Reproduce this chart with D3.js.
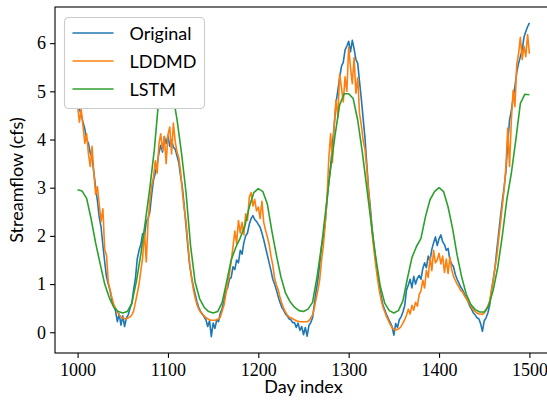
<!DOCTYPE html>
<html>
<head>
<meta charset="utf-8">
<script src="https://cdn.jsdelivr.net/npm/d3@7"></script>
<style>
  body { margin: 0; background: #fff; }
  #chart { width: 547px; height: 402px; overflow: hidden; }
  .tick-label { font-family: "Liberation Serif", serif; font-size: 18px; fill: #000; }
  .axis-title, .legend-text { font-family: Lato, "Noto Sans", sans-serif; font-size: 18px; fill: #000; }
</style>
</head>
<body>
<div id="chart"></div>
<script>
// Day index of first sample and spacing for each series
const noisyStart = 1000, noisyStep = 2;
const lstmStart = 1000, lstmStep = 5;

// Original streamflow, every 2 days from 1000 to 1500
const originalFlow = [
  4.75, 4.64, 4.52, 4.36, 4.22, 4.00, 3.92, 3.72, 3.62, 3.32,
  3.00, 2.72, 2.38, 2.18, 1.80, 1.46, 1.15, 1.00, 0.86, 0.66,
  0.55, 0.44, 0.22, 0.38, 0.15, 0.34, 0.12, 0.30, 0.36, 0.50,
  0.60, 0.88, 1.12, 1.52, 1.70, 1.82, 2.05, 1.98, 2.30, 2.36,
  2.50, 2.86, 3.16, 3.30, 3.48, 3.72, 3.88, 3.74, 4.06, 3.92,
  4.08, 3.86, 4.00, 3.84, 3.80, 3.66, 3.52, 3.24, 3.00, 2.62,
  2.20, 1.78, 1.40, 1.16, 0.96, 0.80, 0.64, 0.52, 0.44, 0.38,
  0.32, 0.26, 0.12, 0.24, -0.09, 0.19, 0.08, 0.26, 0.22, 0.40,
  0.50, 0.66, 0.86, 0.92, 1.10, 1.14, 1.36, 1.30, 1.50, 1.44,
  1.70, 1.62, 1.86, 2.00, 2.06, 2.24, 2.36, 2.42, 2.34, 2.30,
  2.24, 2.18, 2.06, 1.92, 1.76, 1.60, 1.44, 1.28, 1.10, 1.00,
  0.88, 0.74, 0.62, 0.52, 0.46, 0.38, 0.34, 0.28, 0.26, 0.20,
  0.20, 0.10, 0.19, 0.04, 0.12, -0.05, 0.10, -0.08, 0.14, 0.20,
  0.30, 0.58, 0.86, 1.10, 1.42, 1.78, 1.98, 2.28, 2.72, 3.14,
  3.44, 3.88, 4.30, 4.76, 5.02, 5.28, 5.52, 5.60, 5.86, 5.94,
  6.04, 5.82, 6.06, 5.88, 5.66, 5.58, 5.20, 4.84, 4.44, 4.04,
  3.50, 2.96, 2.58, 2.14, 1.78, 1.50, 1.20, 0.94, 0.74, 0.56,
  0.46, 0.36, 0.28, 0.20, 0.12, -0.06, 0.18, 0.10, 0.26, 0.32,
  0.42, 0.55, 0.88, 0.98, 1.10, 0.92, 1.16, 1.00, 1.12, 1.18,
  1.10, 1.32, 1.44, 1.34, 1.58, 1.48, 1.72, 1.86, 1.98, 1.80,
  1.94, 2.02, 1.88, 1.82, 1.70, 1.74, 1.50, 1.42, 1.36, 1.20,
  1.10, 1.02, 0.94, 0.88, 0.80, 0.72, 0.64, 0.54, 0.48, 0.40,
  0.36, 0.30, 0.28, 0.18, 0.02, 0.24, 0.30, 0.40, 0.56, 0.86,
  1.10, 1.36, 1.72, 2.06, 2.40, 2.72, 3.00, 3.34, 3.92, 4.40,
  4.60, 4.86, 5.10, 5.40, 5.58, 5.72, 5.86, 6.12, 6.24, 6.34,
  6.42
];

// LDDMD reconstruction, every 2 days from 1000 to 1500
const lddmdFlow = [
  4.70, 4.36, 4.62, 4.28, 3.92, 4.12, 3.70, 3.44, 3.86, 3.30,
  2.86, 3.02, 2.64, 2.30, 2.56, 1.72, 1.60, 1.04, 0.88, 0.72,
  0.58, 0.50, 0.42, 0.36, 0.32, 0.30, 0.28, 0.28, 0.30, 0.32,
  0.36, 0.44, 0.62, 0.80, 1.00, 1.28, 1.55, 2.10, 1.46, 2.30,
  2.74, 3.04, 3.22, 3.56, 3.30, 3.90, 4.12, 3.78, 4.06, 3.50,
  4.10, 4.26, 3.70, 4.34, 3.96, 3.74, 3.62, 3.34, 2.90, 2.56,
  2.30, 1.86, 1.44, 1.14, 0.90, 0.72, 0.58, 0.48, 0.42, 0.37,
  0.34, 0.30, 0.28, 0.26, 0.25, 0.25, 0.25, 0.26, 0.28, 0.32,
  0.44, 0.56, 0.78, 1.00, 1.20, 1.48, 1.78, 2.10, 1.84, 2.32,
  2.06, 2.28, 2.02, 2.46, 2.32, 2.80, 2.90, 2.62, 2.76, 2.52,
  2.60, 2.36, 2.72, 2.28, 2.12, 1.98, 1.82, 1.58, 1.40, 1.12,
  0.98, 0.88, 0.72, 0.60, 0.50, 0.42, 0.36, 0.32, 0.30, 0.28,
  0.26, 0.24, 0.23, 0.22, 0.22, 0.22, 0.22, 0.22, 0.24, 0.30,
  0.36, 0.50, 0.70, 0.88, 1.10, 1.50, 1.80, 2.24, 2.78, 3.60,
  4.12, 3.52, 4.30, 4.82, 4.46, 5.36, 5.08, 4.78, 5.30, 5.00,
  5.92, 5.50, 5.16, 5.70, 4.96, 5.28, 4.54, 4.30, 3.98, 3.80,
  3.40, 2.92, 2.50, 2.04, 1.70, 1.38, 1.10, 0.86, 0.66, 0.52,
  0.42, 0.32, 0.24, 0.16, 0.10, 0.06, 0.05, 0.06, 0.08, 0.12,
  0.19, 0.26, 0.36, 0.48, 0.38, 0.56, 0.46, 0.62, 0.54, 0.78,
  0.86, 1.08, 0.92, 1.28, 1.14, 1.56, 1.28, 1.70, 1.44, 1.50,
  1.64, 1.42, 1.58, 1.24, 1.52, 1.22, 1.56, 1.30, 1.16, 1.08,
  1.00, 0.94, 0.86, 0.84, 0.76, 0.70, 0.64, 0.58, 0.52, 0.46,
  0.43, 0.40, 0.38, 0.38, 0.37, 0.40, 0.46, 0.55, 0.65, 0.88,
  1.08, 1.34, 1.58, 1.94, 2.26, 2.62, 2.96, 3.44, 4.24, 3.44,
  4.40, 5.02, 4.68, 5.56, 5.78, 6.12, 5.66, 5.94, 5.72, 6.18,
  5.78
];

// LSTM prediction, every 5 days from 1000 to 1500
const lstmFlow = [
  2.96, 2.93, 2.78, 2.35, 1.85, 1.42, 1.00, 0.72, 0.52, 0.43,
  0.40, 0.43, 0.60, 1.05, 1.62, 2.30, 3.00, 3.80, 4.88, 5.12,
  5.15, 4.98, 4.42, 3.72, 2.90, 1.80, 1.05, 0.70, 0.52, 0.43,
  0.40, 0.43, 0.62, 1.05, 1.50, 1.76, 1.96, 2.20, 2.60, 2.90,
  2.98, 2.92, 2.66, 2.10, 1.60, 1.15, 0.82, 0.64, 0.52, 0.45,
  0.43, 0.48, 0.62, 1.15, 1.80, 2.60, 3.40, 4.10, 4.72, 4.95,
  4.95, 4.85, 4.40, 3.75, 3.00, 2.25, 1.55, 0.95, 0.60, 0.45,
  0.40, 0.45, 0.65, 1.12, 1.55, 1.78, 1.95, 2.40, 2.75, 2.92,
  3.00, 2.92, 2.60, 2.15, 1.60, 1.15, 0.80, 0.58, 0.47, 0.42,
  0.42, 0.55, 0.88, 1.35, 2.00, 2.75, 3.30, 4.00, 4.75, 4.94,
  4.93
];

const seriesNames = ["Original", "LDDMD", "LSTM"];
const seriesColors = ["#1f77b4", "#ff7f0e", "#2ca02c"];
const xTickValues = [1000, 1100, 1200, 1300, 1400, 1500];
const yTickValues = [0, 1, 2, 3, 4, 5, 6];

class StreamflowChart {

  constructor(_config) {
    this.config = {
      parentElement: _config.parentElement,
      containerWidth: 547,
      containerHeight: 402,
      // the right spine falls just outside the picture
      margin: { top: 7, left: 55, width: 497, height: 346 }
    };
    this.initVis();
  }

  initVis() {
    let vis = this;
    const m = vis.config.margin;

    vis.svg = d3.select(vis.config.parentElement).append("svg")
        .attr("width", vis.config.containerWidth)
        .attr("height", vis.config.containerHeight);

    vis.chart = vis.svg.append("g")
        .attr("transform", "translate(" + m.left + "," + m.top + ")");

    vis.xScale = d3.scaleLinear().domain([975, 1525]).range([0, m.width]);
    vis.yScale = d3.scaleLinear().domain([-0.43, 6.75]).range([m.height, 0]);

    vis.chart.append("clipPath").attr("id", "plot-clip")
      .append("rect").attr("width", m.width).attr("height", m.height);

    vis.xAxisGroup = vis.chart.append("g")
        .attr("transform", "translate(0," + m.height + ")");
    vis.yAxisGroup = vis.chart.append("g");

    vis.lineGroup = vis.chart.append("g").attr("clip-path", "url(#plot-clip)");

    vis.line = d3.line()
        .x(d => vis.xScale(d.day))
        .y(d => vis.yScale(d.value));
  }

  updateVis() {
    let vis = this;
    const m = vis.config.margin;

    const toPoints = (values, start, step) => values.map((v, i) => ({ day: start + i * step, value: v }));
    vis.series = [
      toPoints(originalFlow, noisyStart, noisyStep),
      toPoints(lddmdFlow, noisyStart, noisyStep),
      toPoints(lstmFlow, lstmStart, lstmStep)
    ];

    // Axes
    vis.xAxisGroup.call(d3.axisBottom(vis.xScale).tickValues(xTickValues)
        .tickFormat(d3.format("d")).tickSize(4.9).tickPadding(5));
    vis.yAxisGroup.call(d3.axisLeft(vis.yScale).tickValues(yTickValues)
        .tickFormat(d3.format("d")).tickSize(4.9).tickPadding(4));
    [vis.xAxisGroup, vis.yAxisGroup].forEach(g => {
      g.select(".domain").remove();
      g.selectAll(".tick line").attr("stroke", "#000").attr("stroke-width", 1.1);
      g.selectAll(".tick text").attr("class", "tick-label").attr("font-family", null).attr("font-size", null);
    });

    // Lines
    vis.lineGroup.selectAll(".series")
        .data(vis.series)
      .join("path")
        .attr("class", "series")
        .attr("fill", "none")
        .attr("stroke", (d, i) => seriesColors[i])
        .attr("stroke-width", 1.6)
        .attr("stroke-linejoin", "round")
        .attr("d", vis.line);

    // Frame
    vis.chart.append("rect")
        .attr("width", m.width).attr("height", m.height)
        .attr("fill", "none").attr("stroke", "#000").attr("stroke-width", 1.1);

    // Axis titles
    vis.svg.append("text").attr("class", "axis-title")
        .attr("x", m.left + m.width / 2).attr("y", 393)
        .attr("text-anchor", "middle").text("Day index");
    vis.svg.append("text").attr("class", "axis-title")
        .attr("transform", "translate(23," + (m.top + m.height / 2) + ") rotate(-90)")
        .attr("text-anchor", "middle").text("Streamflow (cfs)");

    // Legend
    const legend = vis.svg.append("g").attr("transform", "translate(64.5,17.5)");
    legend.append("rect")
        .attr("width", 140).attr("height", 91).attr("rx", 4)
        .attr("fill", "#fff").attr("stroke", "#cccccc").attr("stroke-width", 1.1);
    const rows = legend.selectAll(".legend-row")
        .data(seriesNames)
      .join("g")
        .attr("class", "legend-row")
        .attr("transform", (d, i) => "translate(0," + (15.5 + i * 28) + ")");
    rows.append("line")
        .attr("x1", 8).attr("x2", 49)
        .attr("stroke", (d, i) => seriesColors[i]).attr("stroke-width", 1.6);
    rows.append("text").attr("class", "legend-text")
        .attr("x", 65).attr("y", 6.5).text(d => d);
  }
}

const chart = new StreamflowChart({ parentElement: "#chart" });
chart.updateVis();
</script>
</body>
</html>
